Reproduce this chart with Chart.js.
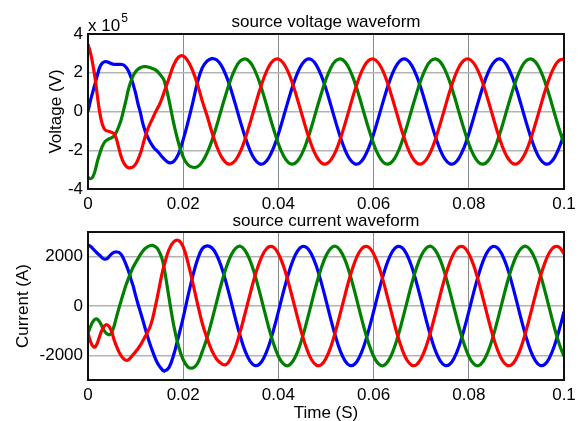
<!DOCTYPE html>
<html>
<head>
<meta charset="utf-8">
<script src="https://cdn.jsdelivr.net/npm/chart.js@4/dist/chart.umd.min.js"></script>
<style>
body { margin: 0; background: #fff; }
#wrap { position: relative; width: 581px; height: 421px; font-family: "Liberation Sans", Arial, sans-serif; }
canvas { position: absolute; left: 0; }
.lbl { position: absolute; font-size: 17px; line-height: 20px; color: #000; white-space: nowrap; }
.ttl { left: 326px; transform: translateX(-50%); }
</style>
</head>
<body>
<div id="wrap">
  <canvas id="vchart" width="581" height="210" style="top:0"></canvas>
  <canvas id="ichart" width="581" height="211" style="top:210px"></canvas>
  <div class="lbl ttl" style="top:12px">source voltage waveform</div>
  <div class="lbl" style="left:88px;top:16px">x 10<span style="font-size:12px;position:relative;top:-9px;margin-left:1px">5</span></div>
  <div class="lbl ttl" style="top:211px">source current waveform</div>
</div>
<script>
// time axis (s): 0.5 ms steps through the start-up, 1 ms after that
var time = [0,0.0005,0.001,0.0015,0.002,0.0025,0.003,0.0035,0.004,0.0045,0.005,0.0055,0.006,0.0065,0.007,0.0075,0.008,0.0085,0.009,0.0095,0.01,0.0105,0.011,0.0115,0.012,0.0125,0.013,0.0135,0.014,0.0145,0.015,0.0155,
  0.016,0.017,0.018,0.019,0.02,0.021,0.022,0.023,0.024,0.025,0.026,0.027,0.028,0.029,0.03,0.031,0.032,0.033,0.034,0.035,0.036,0.037,0.038,0.039,
  0.04,0.041,0.042,0.043,0.044,0.045,0.046,0.047,0.048,0.049,0.05,0.051,0.052,0.053,0.054,0.055,0.056,0.057,0.058,0.059,
  0.06,0.061,0.062,0.063,0.064,0.065,0.066,0.067,0.068,0.069,0.07,0.071,0.072,0.073,0.074,0.075,0.076,0.077,0.078,0.079,
  0.08,0.081,0.082,0.083,0.084,0.085,0.086,0.087,0.088,0.089,0.09,0.091,0.092,0.093,0.094,0.095,0.096,0.097,0.098,0.099,
  0.1];

// source voltage (x 10^5 V)
var vRed = [3.48,3.05,2.45,1.7,0.75,-0.1,-0.65,-0.92,-1.0,-1.03,-1.08,-1.15,-1.45,-1.9,-2.35,-2.65,-2.82,-2.9,-2.9,-2.85,-2.72,-2.48,-2.17,-1.75,-1.3,-0.95,-0.65,-0.4,-0.12,0.12,0.35,0.65,
  1.0,1.7,2.4,2.8,2.87,2.6,2.1,1.4,0.55,-0.21,-1.04,-1.77,-2.32,-2.64,-2.71,-2.51,-2.07,-1.42,-0.63,0.21,1.04,1.77,2.32,2.64,
  2.71,2.51,2.07,1.42,0.63,-0.21,-1.04,-1.77,-2.32,-2.64,-2.71,-2.51,-2.07,-1.42,-0.63,0.21,1.04,1.77,2.32,2.64,
  2.71,2.51,2.07,1.42,0.63,-0.21,-1.04,-1.77,-2.32,-2.64,-2.71,-2.51,-2.07,-1.42,-0.63,0.21,1.04,1.77,2.32,2.64,
  2.71,2.51,2.07,1.42,0.63,-0.21,-1.04,-1.77,-2.32,-2.64,-2.71,-2.51,-2.07,-1.42,-0.63,0.21,1.04,1.77,2.32,2.64,
  2.71];
var vBlue = [0,0.55,1.0,1.45,1.9,2.3,2.5,2.57,2.56,2.52,2.46,2.43,2.43,2.43,2.43,2.4,2.28,2.09,1.78,1.39,0.95,0.4,-0.05,-0.6,-1.0,-1.3,-1.55,-1.75,-1.92,-2.03,-2.17,-2.32,
  -2.45,-2.64,-2.58,-2.2,-1.45,-0.55,0.45,1.5,2.25,2.6,2.73,2.67,2.38,1.86,1.16,0.34,-0.51,-1.31,-1.98,-2.46,-2.70,-2.67,-2.38,-1.86,
  -1.16,-0.34,0.51,1.31,1.98,2.46,2.70,2.67,2.38,1.86,1.16,0.34,-0.51,-1.31,-1.98,-2.46,-2.70,-2.67,-2.38,-1.86,
  -1.16,-0.34,0.51,1.31,1.98,2.46,2.70,2.67,2.38,1.86,1.16,0.34,-0.51,-1.31,-1.98,-2.46,-2.70,-2.67,-2.38,-1.86,
  -1.16,-0.34,0.51,1.31,1.98,2.46,2.70,2.67,2.38,1.86,1.16,0.34,-0.51,-1.31,-1.98,-2.46,-2.70,-2.67,-2.38,-1.86,
  -1.16];
var vGreen = [-3.4,-3.47,-3.38,-3.05,-2.55,-2.15,-1.8,-1.58,-1.47,-1.4,-1.35,-1.25,-1.05,-0.75,-0.4,0.1,0.6,1.15,1.55,1.85,2.05,2.18,2.26,2.31,2.32,2.3,2.27,2.22,2.17,2.09,1.95,1.8,
  1.6,0.6,-0.6,-1.6,-2.35,-2.75,-2.88,-2.85,-2.6,-2.15,-1.53,-0.76,0.09,0.92,1.67,2.25,2.61,2.72,2.56,2.15,1.53,0.76,-0.09,-0.92,
  -1.67,-2.25,-2.61,-2.72,-2.56,-2.15,-1.53,-0.76,0.09,0.92,1.67,2.25,2.61,2.72,2.56,2.15,1.53,0.76,-0.09,-0.92,
  -1.67,-2.25,-2.61,-2.72,-2.56,-2.15,-1.53,-0.76,0.09,0.92,1.67,2.25,2.61,2.72,2.56,2.15,1.53,0.76,-0.09,-0.92,
  -1.67,-2.25,-2.61,-2.72,-2.56,-2.15,-1.53,-0.76,0.09,0.92,1.67,2.25,2.61,2.72,2.56,2.15,1.53,0.76,-0.09,-0.92,
  -1.67];

// source current (A)
var iRed = [-1100,-1420,-1620,-1660,-1480,-1200,-950,-800,-760,-850,-1060,-1380,-1640,-1860,-2030,-2140,-2200,-2180,-2080,-1970,-1850,-1730,-1590,-1420,-1240,-1060,-860,-560,-150,300,780,1260,
  1650,2280,2600,2660,2400,1760,950,100,-700,-1300,-1800,-2150,-2330,-2380,-2120,-1660,-1030,-300,450,1170,1760,2190,2400,2380,
  2120,1660,1030,300,-450,-1170,-1760,-2190,-2400,-2380,-2120,-1660,-1030,-300,450,1170,1760,2190,2400,2380,
  2120,1660,1030,300,-450,-1170,-1760,-2190,-2400,-2380,-2120,-1660,-1030,-300,450,1170,1760,2190,2400,2380,
  2120,1660,1030,300,-450,-1170,-1760,-2190,-2400,-2380,-2120,-1660,-1030,-300,450,1170,1760,2190,2400,2380,
  2120];
var iBlue = [2480,2420,2330,2230,2130,2050,1950,1900,1920,2020,2120,2180,2190,2170,2080,1900,1680,1420,1100,800,430,80,-230,-560,-900,-1230,-1530,-1800,-2060,-2280,-2440,-2560,
  -2640,-2500,-1980,-1250,-470,400,1200,1880,2320,2440,2360,2080,1600,960,230,-530,-1230,-1820,-2220,-2410,-2360,-2080,-1600,-960,
  -230,530,1230,1820,2220,2410,2360,2080,1600,960,230,-530,-1230,-1820,-2220,-2410,-2360,-2080,-1600,-960,
  -230,530,1230,1820,2220,2410,2360,2080,1600,960,230,-530,-1230,-1820,-2220,-2410,-2360,-2080,-1600,-960,
  -230,530,1230,1820,2220,2410,2360,2080,1600,960,230,-530,-1230,-1820,-2220,-2410,-2360,-2080,-1600,-960,
  -230];
var iGreen = [-1100,-850,-640,-530,-540,-660,-850,-1030,-1130,-1170,-1060,-800,-430,-90,240,560,860,1120,1360,1580,1750,1920,2080,2220,2330,2400,2440,2455,2420,2350,2180,1950,
  1540,360,-780,-1620,-2180,-2470,-2510,-2330,-1850,-1300,-600,150,890,1540,2040,2340,2420,2250,1870,1300,600,-150,-890,-1540,
  -2040,-2340,-2420,-2250,-1870,-1300,-600,150,890,1540,2040,2340,2420,2250,1870,1300,600,-150,-890,-1540,
  -2040,-2340,-2420,-2250,-1870,-1300,-600,150,890,1540,2040,2340,2420,2250,1870,1300,600,-150,-890,-1540,
  -2040,-2340,-2420,-2250,-1870,-1300,-600,150,890,1540,2040,2340,2420,2250,1870,1300,600,-150,-890,-1540,
  -2040];

var xTicks = [0, 0.02, 0.04, 0.06, 0.08, 0.1];
var xTickLabels = ['0', '0.02', '0.04', '0.06', '0.08', '0.1'];
var vTicks = [-4, -2, 0, 2, 4];
var iTicks = [-2000, 0, 2000];

var font = { family: "'Liberation Sans', Arial, sans-serif", size: 17 };

// black MATLAB-style box round the plot area
var boxPlugin = {
  id: 'box',
  afterDraw: function(chart) {
    var a = chart.chartArea, ctx = chart.ctx;
    ctx.save();
    ctx.strokeStyle = '#111';
    ctx.lineWidth = 2;
    ctx.strokeRect(a.left, a.top, a.right - a.left, a.bottom - a.top);
    ctx.restore();
  }
};

function pts(vals) {
  return vals.map(function(v, i) { return { x: time[i], y: v }; });
}

function makeChart(id, red, green, blue, cfg) {
  return new Chart(document.getElementById(id), {
    type: 'line',
    data: {
      datasets: [
        { data: pts(red), borderColor: '#ff0000' },
        { data: pts(green), borderColor: '#008000' },
        { data: pts(blue), borderColor: '#0000ff' }
      ]
    },
    options: {
      responsive: false,
      animation: false,
      events: [],
      layout: { padding: { top: cfg.padTop, right: 17, left: 0, bottom: 0 } },
      plugins: { legend: { display: false }, tooltip: { enabled: false } },
      elements: {
        point: { radius: 0 },
        line: { borderWidth: 3.2, tension: 0.4, fill: false }
      },
      scales: {
        x: {
          type: 'linear', min: 0, max: 0.1,
          afterFit: function(s) { s.height = cfg.xHeight; },
          afterBuildTicks: function(s) { s.ticks = xTicks.map(function(v) { return { value: v }; }); },
          ticks: {
            autoSkip: false, maxRotation: 0, padding: 5, color: '#000', font: font,
            callback: function(v, i) { return xTickLabels[i]; }
          },
          grid: { color: '#8a8a8a', lineWidth: 1, drawTicks: false },
          border: { display: false },
          title: { display: !!cfg.xTitle, text: cfg.xTitle, color: '#000', font: font, padding: { top: 0, bottom: -3 } }
        },
        y: {
          min: cfg.yMin, max: cfg.yMax,
          afterFit: function(s) { s.width = 88; },
          afterBuildTicks: function(s) { s.ticks = cfg.yTicks.map(function(v) { return { value: v }; }); },
          ticks: {
            padding: 5, color: '#000', font: font,
            callback: function(v) { return String(v); }
          },
          grid: { color: '#b4b4b4', lineWidth: 1.5, drawTicks: false },
          border: { display: false },
          title: { display: true, text: cfg.yTitle, color: '#000', font: font, padding: { top: cfg.yTitlePad, bottom: 0 } }
        }
      }
    },
    plugins: [boxPlugin]
  });
}

makeChart('vchart', vRed, vGreen, vBlue, {
  padTop: 34, xHeight: 21, yMin: -4, yMax: 4, yTicks: vTicks,
  yTitle: 'Voltage (V)', yTitlePad: 46, xTitle: ''
});

makeChart('ichart', iRed, iGreen, iBlue, {
  padTop: 22, xHeight: 41, yMin: -3000, yMax: 3000, yTicks: iTicks,
  yTitle: 'Current (A)', yTitlePad: 13, xTitle: 'Time (S)'
});
</script>
</body>
</html>
